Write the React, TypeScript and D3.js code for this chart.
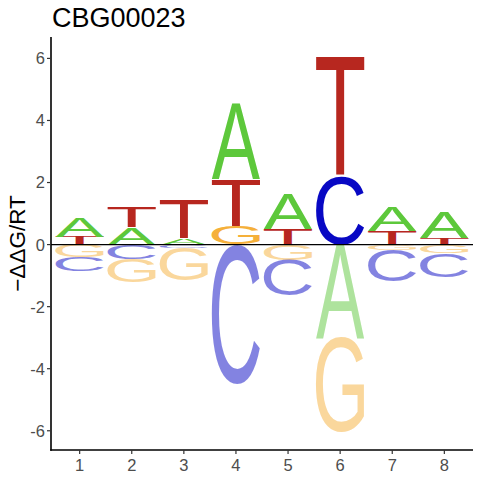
import React from 'react'
import * as d3 from 'd3'

const positions = [1, 2, 3, 4, 5, 6, 7, 8]
const valuesA = [0.635, 0.55, 0.21, 2.42, 1.13, -3.0, 0.77, 0.84]
const valuesC = [-0.46, -0.48, -0.1, -4.5, -1.13, 2.2, -1.0, -0.78]
const valuesG = [-0.4, -0.74, -1.07, 0.59, -0.5, -3.05, -0.18, -0.26]
const valuesT = [0.245, 0.68, 1.25, 1.51, 0.49, 3.87, 0.43, 0.21]
const yTicks = [-6, -4, -2, 0, 2, 4, 6]

const letters = ['A', 'C', 'G', 'T']
const seriesByLetter: Record<string, number[]> = { A: valuesA, C: valuesC, G: valuesG, T: valuesT }
const letterColors: Record<string, string> = {
  A: '#5dc83b',
  C: '#0808c4',
  G: '#f5b03a',
  T: '#b7271f'
}

const W = 480
const H = 480
const panel = { left: 51, right: 473, top: 37, bottom: 450 }
const glyphFont = '400 100px "Liberation Sans"'
const labelFont = '"Liberation Sans", Arial, sans-serif'

// ink bounds of each glyph, measured once with a canvas
const glyphBox: Record<string, { x0: number; x1: number; y0: number; y1: number }> = {}
const ctx = document.createElement('canvas').getContext('2d')!
ctx.font = glyphFont
letters.forEach(l => {
  const m = ctx.measureText(l)
  glyphBox[l] = {
    x0: -m.actualBoundingBoxLeft,
    x1: m.actualBoundingBoxRight,
    y0: -m.actualBoundingBoxAscent,
    y1: m.actualBoundingBoxDescent
  }
})

interface Stacked {
  letter: string
  pos: number
  lo: number
  hi: number
  neg: boolean
}

const App: React.FC = () => {
  const x = d3.scaleLinear().domain([0.45, 8.55]).range([panel.left, panel.right])
  const y = d3.scaleLinear().domain([-6.62, 6.69]).range([panel.bottom, panel.top])
  const half = 0.465

  // stack letters away from zero, smallest first
  const stacks: Stacked[] = []
  positions.forEach((p, i) => {
    const vals = letters.map(l => ({ letter: l, v: seriesByLetter[l][i] }))
    const pos = vals.filter(d => d.v > 0).sort((a, b) => a.v - b.v)
    const neg = vals.filter(d => d.v < 0).sort((a, b) => b.v - a.v)
    let acc = 0
    pos.forEach(d => {
      stacks.push({ letter: d.letter, pos: p, lo: acc, hi: acc + d.v, neg: false })
      acc += d.v
    })
    acc = 0
    neg.forEach(d => {
      stacks.push({ letter: d.letter, pos: p, lo: acc + d.v, hi: acc, neg: true })
      acc += d.v
    })
  })

  return (
    <svg width={W} height={H} style={{ position: 'absolute', left: 0, top: 0, background: '#fff' }}>
      {stacks.map((s, i) => {
        const b = glyphBox[s.letter]
        const bx = x(s.pos - half)
        const bw = x(s.pos + half) - bx
        const by = y(s.hi)
        const bh = y(s.lo) - by
        const sx = bw / (b.x1 - b.x0)
        const sy = bh / (b.y1 - b.y0)
        return (
          <text
            key={i}
            transform={`translate(${bx},${by}) scale(${sx},${sy}) translate(${-b.x0},${-b.y0})`}
            style={{ font: glyphFont }}
            fill={letterColors[s.letter]}
            fillOpacity={s.neg ? 0.5 : 1}
          >
            {s.letter}
          </text>
        )
      })}

      {/* zero line */}
      <line x1={panel.left} x2={panel.right} y1={y(0)} y2={y(0)} stroke="#000" strokeWidth={1.2} />

      {/* axes */}
      <line x1={panel.left} x2={panel.left} y1={panel.top} y2={panel.bottom + 0.8} stroke="#000" strokeWidth={1.6} />
      <line x1={panel.left - 0.8} x2={panel.right} y1={panel.bottom} y2={panel.bottom} stroke="#000" strokeWidth={1.6} />

      {yTicks.map(t => (
        <g key={t} transform={`translate(0,${y(t)})`}>
          <line x1={panel.left - 4} x2={panel.left} stroke="#333" strokeWidth={1.2} />
          <text x={panel.left - 6} dy="0.36em" textAnchor="end" fill="#4d4d4d" style={{ font: `16.5px ${labelFont}` }}>
            {t}
          </text>
        </g>
      ))}

      {positions.map(p => (
        <g key={p} transform={`translate(${x(p)},0)`}>
          <line y1={panel.bottom} y2={panel.bottom + 4} stroke="#333" strokeWidth={1.2} />
          <text y={panel.bottom + 21} textAnchor="middle" fill="#4d4d4d" style={{ font: `16.5px ${labelFont}` }}>
            {p}
          </text>
        </g>
      ))}

      <text
        transform={`translate(25,${(panel.top + panel.bottom) / 2}) rotate(-90)`}
        textAnchor="middle"
        fill="#000"
        style={{ font: `22.5px ${labelFont}` }}
      >
        −ΔΔG/RT
      </text>

      <text x={52} y={27} fill="#000" style={{ font: `27px ${labelFont}` }}>
        CBG00023
      </text>
    </svg>
  )
}

export default App
